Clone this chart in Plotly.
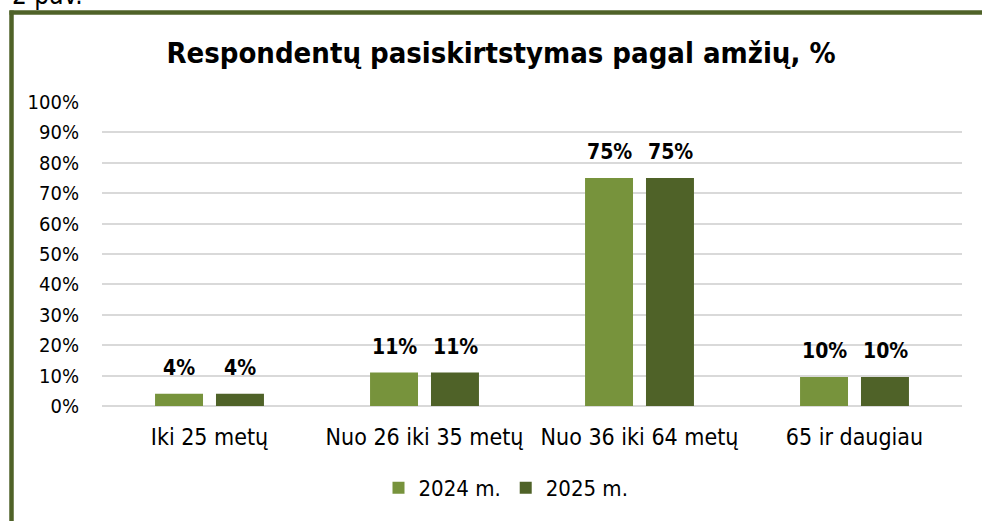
import plotly.graph_objects as go

categories = ["Iki 25 metų", "Nuo 26 iki 35 metų", "Nuo 36 iki 64 metų", "65 ir daugiau"]
series_names = ["2024 m.", "2025 m."]
values_2024 = [4, 11, 75, 9.5]
values_2025 = [4, 11, 75, 9.5]
tick_vals = [0, 10, 20, 30, 40, 50, 60, 70, 80, 90, 100]
tick_text = [f"{v}%" for v in tick_vals]
title_text = "Respondentų pasiskirtstymas pagal amžių, %"
caption_text = "2 pav."

colors = ["#77933C", "#4F6228"]
FONT = "DejaVu Sans Condensed, DejaVu Sans, sans-serif"

W, H = 982, 521
L, R, T, B = 102, 20, 102, 115
pw, ph = W - L - R, H - T - B

def px_x(p):
    return (p - L) / pw

def px_y(p):
    return (H - B - p) / ph

fig = go.Figure()
for name, vals, col in zip(series_names, [values_2024, values_2025], colors):
    fig.add_trace(go.Bar(
        x=categories, y=vals, name=name, marker=dict(color=col, line=dict(width=0)),
    ))

# data labels above each bar
for i, (vals, shift) in enumerate(zip([values_2024, values_2025], [-30.5, 30.5])):
    for c, v in zip(categories, vals):
        fig.add_annotation(x=c, y=v, xref="x", yref="y", xshift=shift, yshift=12,
                           text=f"{round(v + 1e-9):.0f}%", showarrow=False, yanchor="bottom",
                           font=dict(family=FONT, size=21, color="#000000", weight="bold"))

fig.update_layout(
    width=W, height=H,
    margin=dict(l=L, r=R, t=T, b=B),
    paper_bgcolor="white", plot_bgcolor="white",
    barmode="group", bargap=0.433, bargroupgap=0.213,
    title=dict(text=title_text, x=501 / W, xanchor="center", y=1 - 53 / H, yanchor="middle",
               font=dict(family=FONT, size=29, color="#000000", weight="bold")),
    xaxis=dict(showgrid=False, showline=False, ticks="", ticklabelstandoff=15,
               tickfont=dict(family=FONT, size=23, color="#000000")),
    yaxis=dict(range=[0, 100], tickvals=tick_vals, ticktext=tick_text, showgrid=True,
               gridcolor="#D9D9D9", gridwidth=1.5, zeroline=True, zerolinecolor="#D9D9D9", zerolinewidth=1.5,
               ticks="", ticklabelstandoff=22, tickfont=dict(family=FONT, size=20, color="#000000")),
    legend=dict(orientation="h", x=px_x(506), xanchor="center", y=px_y(488), yanchor="middle",
                font=dict(family=FONT, size=22, color="#000000"), itemwidth=30),
    showlegend=True,
)

border = "#4F6228"
fig.add_shape(type="line", xref="paper", yref="paper", x0=px_x(11.5), x1=px_x(11.5), y0=px_y(10.5), y1=px_y(560),
              line=dict(color=border, width=4.5))
fig.add_shape(type="line", xref="paper", yref="paper", x0=px_x(9.5), x1=px_x(1000), y0=px_y(12.5), y1=px_y(12.5),
              line=dict(color=border, width=4.5))
fig.add_annotation(text=caption_text, xref="paper", yref="paper", x=px_x(10), xanchor="left", y=px_y(12),
                   yanchor="bottom", showarrow=False, font=dict(family=FONT, size=26, color="#000000"))

fig.write_html("out.html", config={"displayModeBar": False},
               post_script="document.body.style.margin='0';")
